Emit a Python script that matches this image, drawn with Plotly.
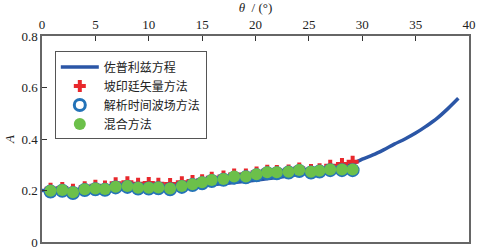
import plotly.graph_objects as go

# Zoeppritz curve
curve_angle = [0, 2, 4, 6, 8, 10, 12, 14, 16, 18, 20, 22, 24, 26, 27, 28, 29, 30,
               31, 32, 33, 34, 35, 36, 37, 38, 39]
curve_A = [0.200, 0.200, 0.201, 0.203, 0.205, 0.208, 0.212, 0.217, 0.223, 0.231,
           0.240, 0.250, 0.262, 0.274, 0.282, 0.291, 0.302, 0.322, 0.338, 0.358,
           0.380, 0.400, 0.423, 0.450, 0.480, 0.517, 0.558]

pt_angle = [0.8, 1.9, 2.9, 4.0, 5.0, 5.9, 6.9, 8.0, 9.0, 10.0, 10.9, 12.0, 13.1, 14.1,
            15.0, 15.9, 17.0, 18.0, 19.1, 20.1, 21.1, 22.0, 23.1, 24.1, 25.2, 26.0,
            27.0, 28.1, 29.1]
slant_A = [0.207, 0.210, 0.203, 0.213, 0.218, 0.216, 0.228, 0.232, 0.226, 0.229,
           0.226, 0.225, 0.232, 0.237, 0.240, 0.250, 0.254, 0.262, 0.262, 0.270,
           0.277, 0.276, 0.278, 0.285, 0.280, 0.283, 0.296, 0.303, 0.312]
tw_A = [0.196, 0.199, 0.190, 0.202, 0.205, 0.203, 0.212, 0.214, 0.208, 0.208,
        0.209, 0.205, 0.214, 0.221, 0.228, 0.237, 0.242, 0.250, 0.251, 0.259,
        0.267, 0.267, 0.270, 0.276, 0.270, 0.274, 0.279, 0.279, 0.279]
mix_A = [0.199, 0.202, 0.193, 0.205, 0.208, 0.206, 0.215, 0.217, 0.211, 0.211,
         0.212, 0.208, 0.217, 0.224, 0.232, 0.241, 0.245, 0.254, 0.254, 0.263,
         0.271, 0.271, 0.273, 0.280, 0.273, 0.277, 0.282, 0.282, 0.282]

names = ["佐普利兹方程", "坡印廷矢量方法", "解析时间波场方法", "混合方法"]
x_ticks = [0, 5, 10, 15, 20, 25, 30, 35, 40]
y_ticks = [0, 0.2, 0.4, 0.6, 0.8]

fig = go.Figure()
fig.add_trace(go.Scatter(x=curve_angle, y=curve_A, mode="lines", name=names[0],
                         line=dict(color="#2b56a6", width=3.5, shape="spline")))
fig.add_trace(go.Scatter(x=pt_angle, y=slant_A, mode="markers", name=names[1],
                         marker=dict(symbol="cross", size=10, color="#e8282c")))
fig.add_trace(go.Scatter(x=pt_angle, y=tw_A, mode="markers", name=names[2],
                         marker=dict(symbol="circle-open", size=11, color="#2473b8",
                                     line=dict(width=3, color="#2473b8"))))
fig.add_trace(go.Scatter(x=pt_angle, y=mix_A, mode="markers", name=names[3],
                         marker=dict(symbol="circle", size=12, color="#6cc04a")))

serif = "'Liberation Serif', 'Times New Roman', serif"
fig.update_layout(
    width=485, height=252,
    margin=dict(l=42, r=16, t=36, b=10),
    paper_bgcolor="white", plot_bgcolor="white",
    font=dict(family=serif, size=13, color="#222"),
    showlegend=True,
    legend=dict(x=0.03, y=0.925, xanchor="left", yanchor="top",
                bgcolor="white", bordercolor="#555", borderwidth=1,
                font=dict(family="Noto Sans CJK SC", size=12, color="#222"),
                tracegroupgap=0, itemwidth=38),
    xaxis=dict(side="top", range=[0, 40], tickvals=x_ticks, ticks="inside",
               ticklen=5, tickcolor="#333", showline=True, linecolor="#666",
               linewidth=1.5, mirror=True, showgrid=False, zeroline=False,
               automargin=False,
               tickfont=dict(family=serif, size=13),
               title=dict(text="<i>θ</i>  / (°)", font=dict(family=serif, size=13),
                          standoff=2)),
    yaxis=dict(range=[0, 0.8], tickvals=y_ticks, ticktext=["0", "0.2", "0.4", "0.6", "0.8"],
               ticks="inside", ticklen=5, tickcolor="#333", showline=True,
               linecolor="#666", linewidth=1.5, mirror=True, showgrid=False,
               zeroline=False, automargin=False,
               tickfont=dict(family=serif, size=13),
               title=dict(text="<i>A</i>", font=dict(family=serif, size=13), standoff=4)),
)

fig.write_html("out.html", config={"displayModeBar": False},
               post_script="document.body.style.margin='0';document.body.style.padding='0';")
